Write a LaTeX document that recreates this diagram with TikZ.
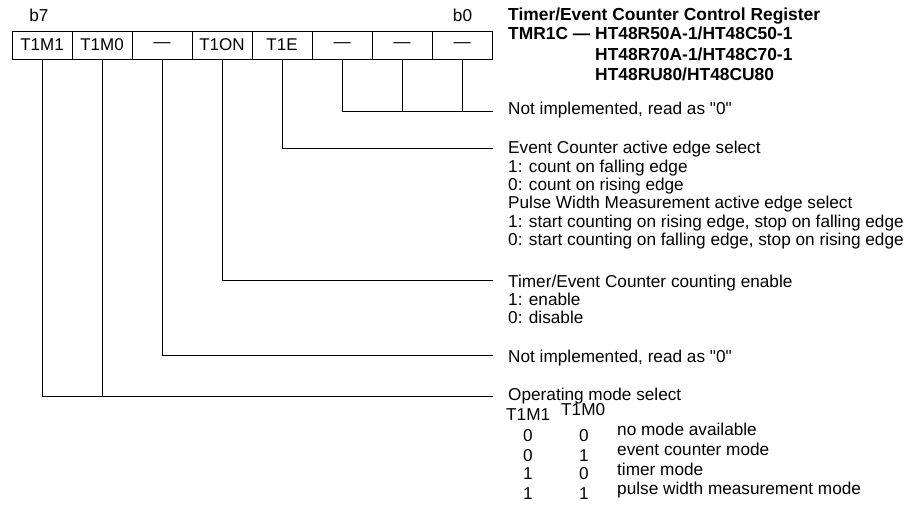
\documentclass[tikz,border=0pt]{standalone}
\usepackage{fontspec}
\setmainfont{Liberation Sans}[Ligatures=TeXOff]
\begin{document}
\begin{tikzpicture}[x=1pt,y=-1pt,
  txt/.style={anchor=base west,inner sep=0pt,font=\fontsize{17.2}{18}\selectfont},
  ttl/.style={txt,font=\fontsize{17.4}{18}\selectfont\bfseries},
  dig/.style={anchor=base,inner sep=0pt,font=\fontsize{17.2}{18}\selectfont},
  cell/.style={draw,line width=0.8pt,minimum width=60pt,minimum height=28pt,inner sep=0pt,font=\fontsize{17}{18}\selectfont},
  wire/.style={line width=0.8pt}]
\useasboundingbox (0,0) rectangle (912,505);
% register cells
\node[cell] (c7) at (42,45) {T1M1};
\node[cell] (c6) at (102,45) {T1M0};
\node[cell] (c5) at (162,45) {—};
\node[cell] (c4) at (222,45) {T1ON};
\node[cell] (c3) at (282,45) {T1E};
\node[cell] (c2) at (342,45) {—};
\node[cell] (c1) at (402,45) {—};
\node[cell] (c0) at (462,45) {—};
\node[dig] (b7) at (39,22) {b7};
\node[dig] (b0) at (462.5,22) {b0};
% title
\node[ttl] (h1) at (508,21) {Timer/Event Counter Control Register};
\node[ttl] (h2) at (508,40) {TMR1C — HT48R50A-1/HT48C50-1};
\node[ttl] (h3) at (595,61) {HT48R70A-1/HT48C70-1};
\node[ttl] (h4) at (595,81) {HT48RU80/HT48CU80};
% connector ends
\coordinate (e0) at (493,111);
\coordinate (e3) at (493,148.3);
\coordinate (e4) at (493,280);
\coordinate (e5) at (493,355);
\coordinate (e7) at (493,396.7);
\draw[wire] (c2.south) |- (e0);
\draw[wire] (c1.south) -- (c1.south |- e0);
\draw[wire] (c0.south) -- (c0.south |- e0);
\draw[wire] (c3.south) |- (e3);
\draw[wire] (c4.south) |- (e4);
\draw[wire] (c5.south) |- (e5);
\draw[wire] (c7.south) |- (e7);
\draw[wire] (c6.south) -- (c6.south |- e7);
% descriptions
\node[txt] (n0) at (508,115) {Not implemented, read as "0"};
\node[txt] (a1) at (508,154) {Event Counter active edge select};
\node[txt] (a2) at (508,172.3) {1: count on falling edge};
\node[txt] (a3) at (508,190.6) {0: count on rising edge};
\node[txt] (a4) at (508,208.9) {Pulse Width Measurement active edge select};
\node[txt] (a5) at (508,227.2) {1: start counting on rising edge, stop on falling edge};
\node[txt] (a6) at (508,245.5) {0: start counting on falling edge, stop on rising edge};
\node[txt] (o1) at (508,287) {Timer/Event Counter counting enable};
\node[txt] (o2) at (508,305) {1: enable};
\node[txt] (o3) at (508,323) {0: disable};
\node[txt] (n5) at (508,362) {Not implemented, read as "0"};
\node[txt] (m1) at (508,400) {Operating mode select};
\node[txt] (mh1) at (506,420) {T1M1};
\node[txt] (mh2) at (561,415.5) {T1M0};
\node[dig] (d11) at (528,441) {0};
\node[dig] (d12) at (584,441) {0};
\node[dig] (d21) at (528,461) {0};
\node[dig] (d22) at (584,461) {1};
\node[dig] (d31) at (528,479.5) {1};
\node[dig] (d32) at (584,479.5) {0};
\node[dig] (d41) at (528,499) {1};
\node[dig] (d42) at (584,499) {1};
\node[txt] (r1) at (617,435) {no mode available};
\node[txt] (r2) at (617,455) {event counter mode};
\node[txt] (r3) at (617,475) {timer mode};
\node[txt] (r4) at (617,494) {pulse width measurement mode};
\end{tikzpicture}
\end{document}
